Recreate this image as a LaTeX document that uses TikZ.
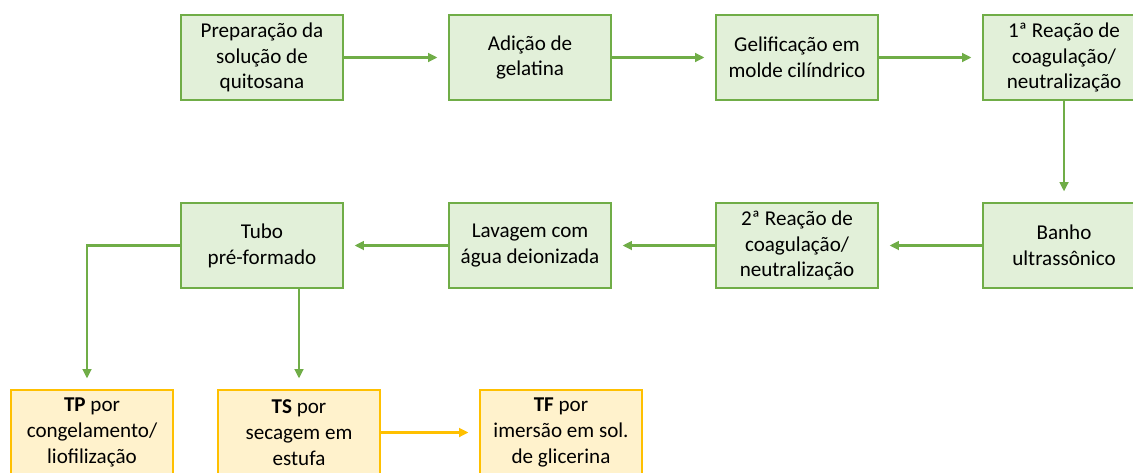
\documentclass[tikz,border=0pt]{standalone}
\usepackage{fontspec}
\setmainfont{Carlito}
\usepackage{tikz}
\usetikzlibrary{arrows.meta}
\definecolor{stepline}{HTML}{70AD47}
\definecolor{stepfill}{HTML}{E2F0D9}
\definecolor{prodline}{HTML}{FFC000}
\definecolor{prodfill}{HTML}{FFF2CC}
\tikzstyle{Step}=[minimum width=4.86cm, minimum height=2.55cm, fill=stepfill, line width=1pt, draw=stepline, shape=rectangle, align=center, text=black, font=\fontsize{18}{22}\selectfont, inner sep=0pt]
\tikzstyle{Product}=[Step, fill=prodfill, draw=prodline]
\tikzstyle{arrow}=[line width=1.9pt, draw=stepline, -{Triangle[length=8pt,width=7.5pt]}, shorten >=0.33cm]
\tikzstyle{prodarrow}=[arrow, draw=prodline, fill=prodline]

\begin{document}
\begin{tikzpicture}[x=0.03cm, y=-0.03cm]
	\clip (0,0) rectangle (1133,472);
	\fill [white] (0,0) rectangle (1133,472);

	% row 1
	\node [style=Step] (prep) at (262, 57.5) {Preparação da\\solução de\\quitosana};
	\node [style=Step] (adicao) at (530, 57.5) {Adição de\\gelatina};
	\node [style=Step] (gelif) at (797, 57.5) {Gelificação em\\molde cilíndrico};
	\node [style=Step] (reacao1) at (1064, 57.5) {1ª Reação de\\coagulação/\\neutralização};

	% row 2
	\node [style=Step] (banho) at (1064, 245.5) {Banho\\ultrassônico};
	\node [style=Step] (reacao2) at (797, 245.5) {2ª Reação de\\coagulação/\\neutralização};
	\node [style=Step] (lavagem) at (530, 245.5) {Lavagem com\\água deionizada};
	\node [style=Step] (tubo) at (262, 245.5) {Tubo\\pré-formado};

	% row 3
	\node [style=Product] (tp) at (92, 432.5) {\textbf{TP} por\\congelamento/\\liofilização};
	\node [style=Product] (ts) at (299, 432.5) {\textbf{TS} por\\secagem em\\estufa};
	\node [style=Product] (tf) at (561, 432.5) {\textbf{TF} por\\imersão em sol.\\de glicerina};

	\draw [style=arrow] (prep) to (adicao);
	\draw [style=arrow] (adicao) to (gelif);
	\draw [style=arrow] (gelif) to (reacao1);
	\draw [style=arrow] (reacao1) to (banho);
	\draw [style=arrow] (banho) to (reacao2);
	\draw [style=arrow] (reacao2) to (lavagem);
	\draw [style=arrow] (lavagem) to (tubo);
	\draw [style=arrow] (tubo.west) -| ([xshift=-0.15cm]tp.north);
	\draw [style=arrow] (tubo.south -| ts.north) to (ts.north);
	\draw [style=prodarrow] (ts) to (tf);
\end{tikzpicture}
\end{document}
